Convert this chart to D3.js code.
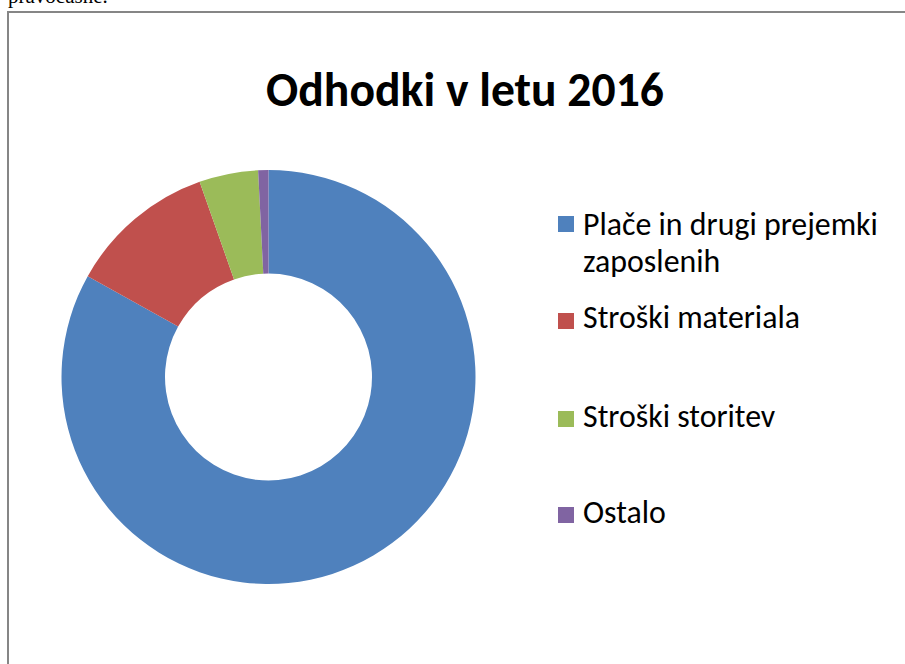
<!DOCTYPE html>
<html><head><meta charset="utf-8">
<script src="https://cdn.jsdelivr.net/npm/d3@7"></script>
<style>html,body{margin:0;padding:0;background:#fff;overflow:hidden}</style>
</head><body>
<script>
const categories = ["Plače in drugi prejemki zaposlenih", "Stroški materiala", "Stroški storitev", "Ostalo"];
const legendLines = [["Plače in drugi prejemki", "zaposlenih"], ["Stroški materiala"], ["Stroški storitev"], ["Ostalo"]];
const values = [83.1, 11.5, 4.6, 0.8];
const colors = ["#4F81BD", "#C0504D", "#9BBB59", "#8064A2"];
const title = "Odhodki v letu 2016";

const W = 905, H = 664;
const svg = d3.select("body").append("svg").attr("width", W).attr("height", H);

// cropped text of the surrounding document
svg.append("text").attr("x", 8).attr("y", 3)
  .attr("font-family", "Liberation Serif, Times New Roman, serif").attr("font-size", 21)
  .attr("fill", "#000").text("pravočasne.");

// chart frame
svg.append("rect").attr("x", 8).attr("y", 12).attr("width", 1000).attr("height", 800)
  .attr("fill", "#fff").attr("stroke", "#868686").attr("stroke-width", 2);

const fitText = (sel, target) => {
  const n = sel.node();
  const fs = +sel.attr("font-size");
  const w = n.getComputedTextLength();
  sel.attr("font-size", fs * target / w);
};

const t = svg.append("text").attr("x", 465).attr("y", 106).attr("text-anchor", "middle")
  .attr("font-family", "Carlito, Calibri, Lato, sans-serif").attr("font-weight", "bold")
  .attr("font-size", 36).attr("fill", "#000").text(title);
fitText(t, 398);

const cx = 268.5, cy = 377, R = 207, r = 103.5;
const pie = d3.pie().sort(null).value(d => d)(values);
const arc = d3.arc().innerRadius(r).outerRadius(R);
svg.append("g").attr("transform", `translate(${cx},${cy})`)
  .selectAll("path").data(pie).join("path")
  .attr("d", arc).attr("fill", (d, i) => colors[i]).attr("stroke", "none");

// legend
const squareTops = [216, 313, 411, 507];
const baselines = [235, 328, 427, 523];
const lg = svg.append("g");
let fsLegend = null;
legendLines.forEach((lines, i) => {
  lg.append("rect").attr("x", 558).attr("y", squareTops[i]).attr("width", 16).attr("height", 16)
    .attr("fill", colors[i]);
  lines.forEach((ln, j) => {
    const tx = lg.append("text").attr("x", 583).attr("y", baselines[i] + j * 37)
      .attr("font-family", "Carlito, Calibri, Lato, sans-serif").attr("font-size", 26)
      .attr("fill", "#000").text(ln);
    if (i === 0 && j === 0) { fitText(tx, 295); fsLegend = +tx.attr("font-size"); }
    else tx.attr("font-size", fsLegend);
  });
});
</script>
</body></html>
